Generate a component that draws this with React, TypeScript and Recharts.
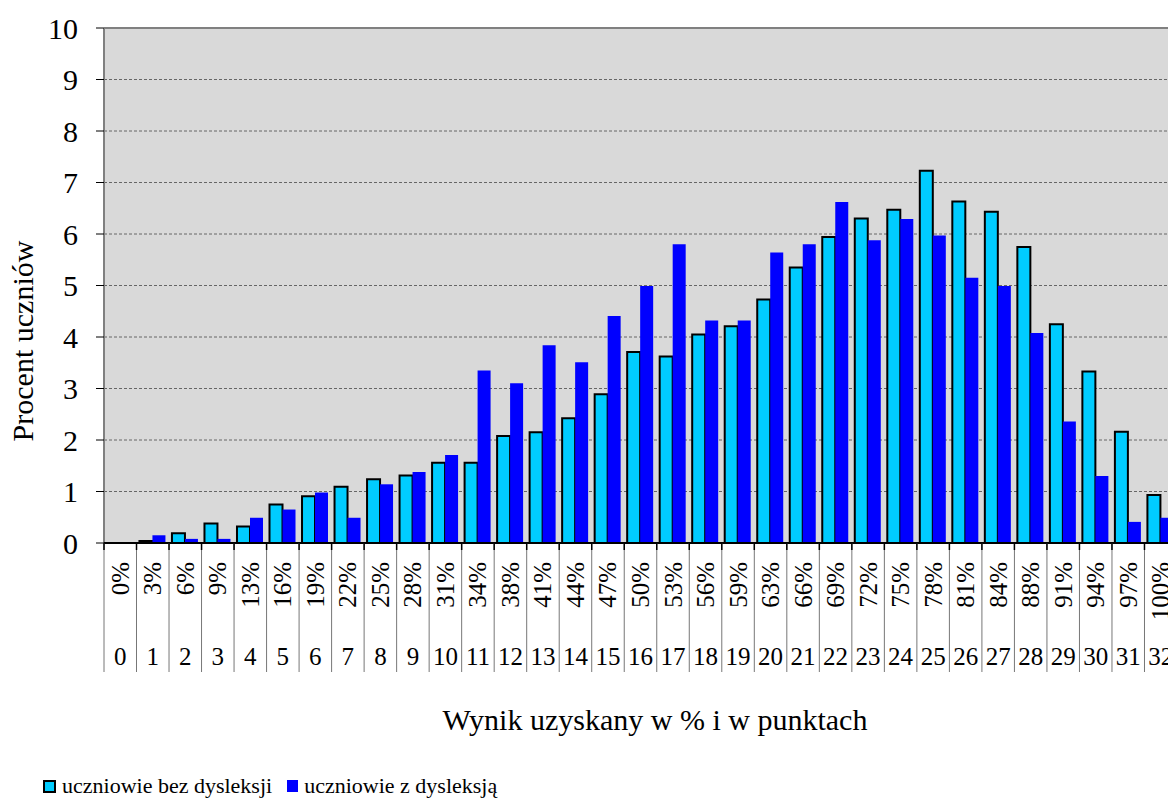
import React from "react";
import { Bar, BarChart, CartesianGrid, ReferenceLine, XAxis, YAxis } from "recharts";

const points = [
  "0", "1", "2", "3", "4", "5", "6", "7", "8", "9", "10", "11", "12", "13", "14", "15", "16",
  "17", "18", "19", "20", "21", "22", "23", "24", "25", "26", "27", "28", "29", "30", "31", "32",
];

const percents = [
  "0%", "3%", "6%", "9%", "13%", "16%", "19%", "22%", "25%", "28%", "31%", "34%", "38%",
  "41%", "44%", "47%", "50%", "53%", "56%", "59%", "63%", "66%", "69%", "72%", "75%",
  "78%", "81%", "84%", "88%", "91%", "94%", "97%", "100%",
];

// uczniowie bez dysleksji
const withoutDyslexia = [
  0, 0.04, 0.19, 0.38, 0.32, 0.75, 0.91, 1.09, 1.24, 1.31, 1.56, 1.56, 2.08, 2.15, 2.42, 2.89,
  3.71, 3.62, 4.05, 4.21, 4.73, 5.35, 5.94, 6.3, 6.47, 7.23, 6.63, 6.43, 5.75, 4.25, 3.33, 2.16, 0.93,
];

// uczniowie z dysleksją
const withDyslexia = [
  0, 0.15, 0.08, 0.08, 0.49, 0.65, 0.98, 0.49, 1.14, 1.38, 1.71, 3.35, 3.1, 3.84, 3.51, 4.41,
  4.99, 5.8, 4.32, 4.32, 5.64, 5.8, 6.62, 5.88, 6.29, 5.97, 5.15, 4.99, 4.08, 2.36, 1.3, 0.41, 0.49,
];

const yTicks = [0, 1, 2, 3, 4, 5, 6, 7, 8, 9, 10];

const chartData = points.map((pts, i) => ({
  pts,
  pct: percents[i],
  bez: withoutDyslexia[i],
  z: withDyslexia[i],
}));

const FONT = '"Liberation Serif", "Times New Roman", serif';

function CategoryTick(props: any) {
  const { x, y, payload, index, width, visibleTicksCount } = props;
  const band = width / visibleTicksCount;
  const left = x - band / 2;
  const right = x + band / 2;
  return (
    <g>
      <line x1={left} y1={y} x2={left} y2={y + 129} stroke="#777" strokeWidth={1} />
      <line x1={left} y1={y} x2={left} y2={y + 7} stroke="#000" strokeWidth={1.5} />
      {index === visibleTicksCount - 1 && (
        <line x1={right} y1={y} x2={right} y2={y + 129} stroke="#777" strokeWidth={1} />
      )}
      <text
        transform={`translate(${x},${y + 19}) rotate(-90)`}
        textAnchor="end"
        dominantBaseline="central"
        fontSize={25}
        style={{ fontFamily: FONT }}
        fill="#000"
      >
        {percents[index]}
      </text>
      <text x={x} y={y + 122} textAnchor="middle" fontSize={25} style={{ fontFamily: FONT }} fill="#000">
        {payload.value}
      </text>
    </g>
  );
}

function LegendBox({ color, border }: { color: string; border: boolean }) {
  return (
    <span
      style={{
        display: "inline-block",
        width: border ? 9 : 11,
        height: border ? 9 : 12,
        background: color,
        border: border ? "2px solid #000" : "none",
        marginRight: 6,
      }}
    />
  );
}

export default function App() {
  return (
    <div
      style={{
        position: "absolute",
        left: 0,
        top: 0,
        width: 1168,
        height: 803,
        overflow: "hidden",
        background: "#fff",
        fontFamily: FONT,
      }}
    >
      <BarChart
        width={1181}
        height={803}
        data={chartData}
        margin={{ top: 28, right: 4, bottom: 131, left: 0 }}
        barCategoryGap="9%"
        barGap={0}
        style={{ fontFamily: FONT }}
      >
        <CartesianGrid
          vertical={false}
          fill="#D9D9D9"
          stroke="#666"
          strokeDasharray="3 2"
        />
        <ReferenceLine y={10} stroke="#808080" strokeWidth={2} />
        <YAxis
          width={104}
          domain={[0, 10]}
          ticks={yTicks}
          interval={0}
          tickSize={8}
          tickMargin={18}
          tick={{ fontSize: 30, fontFamily: FONT, fill: "#000" }}
          tickLine={{ stroke: "#000" }}
          axisLine={{ stroke: "#808080", strokeWidth: 2 }}
          label={{
            content: () => (
              <text
                transform="translate(22,341) rotate(-90)"
                textAnchor="middle"
                dominantBaseline="central"
                fontSize={30}
                style={{ fontFamily: FONT }}
                fill="#000"
              >
                Procent uczniów
              </text>
            ),
          }}
        />
        <XAxis
          dataKey="pts"
          height={129}
          interval={0}
          tickSize={0}
          tickMargin={0}
          tickLine={false}
          axisLine={{ stroke: "#000", strokeWidth: 2 }}
          tick={<CategoryTick />}
          label={{
            content: () => (
              <text
                x={655}
                y={719}
                textAnchor="middle"
                dominantBaseline="central"
                fontSize={30}
                style={{ fontFamily: FONT }}
                fill="#000"
              >
                Wynik uzyskany w % i w punktach
              </text>
            ),
          }}
        />
        <Bar
          dataKey="bez"
          name="uczniowie bez dysleksji"
          fill="#00CCFF"
          stroke="#000"
          strokeWidth={2}
          isAnimationActive={false}
        />
        <Bar
          dataKey="z"
          name="uczniowie z dysleksją"
          fill="#0000FF"
          isAnimationActive={false}
        />
      </BarChart>
      <div
        style={{
          position: "absolute",
          left: 43,
          top: 771,
          fontSize: 22,
          lineHeight: "30px",
          color: "#000",
          whiteSpace: "nowrap",
          display: "flex",
          alignItems: "center",
        }}
      >
        <LegendBox color="#00CCFF" border />
        <span style={{ marginRight: 15 }}>uczniowie bez dysleksji</span>
        <LegendBox color="#0000FF" border={false} />
        <span>uczniowie z dysleksją</span>
      </div>
    </div>
  );
}
